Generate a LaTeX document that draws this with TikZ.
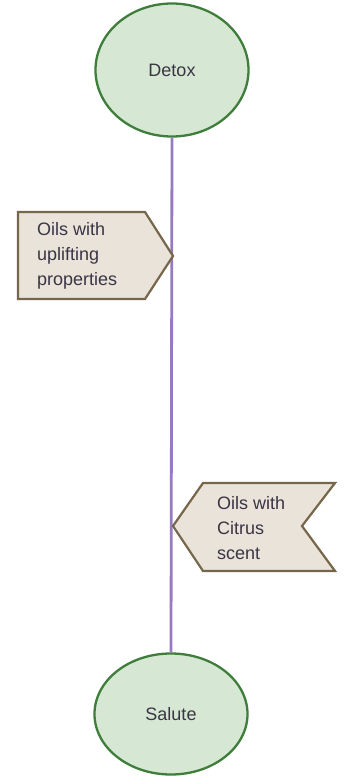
\documentclass[tikz,border=0pt]{standalone}
\usepackage{fontspec}
\setmainfont{Liberation Sans}
\usetikzlibrary{shapes.geometric}

\definecolor{PhaseFill}{HTML}{D6E8D4}
\definecolor{PhaseLine}{HTML}{3E7D3A}
\definecolor{TagFill}{HTML}{E9E3DA}
\definecolor{TagLine}{HTML}{76664A}
\definecolor{Stem}{HTML}{977BC2}
\definecolor{LabelText}{HTML}{3A3545}

\tikzset{
  phase/.style={ellipse,draw=PhaseLine,fill=PhaseFill,line width=2.3pt,
    text=LabelText,inner sep=0pt},
  tagshape/.style={draw=TagLine,fill=TagFill,line width=2.2pt,line join=miter},
  tagtext/.style={anchor=west,align=left,inner sep=0pt,text=LabelText},
  stem/.style={draw=Stem,line width=2.8pt}
}

\newcommand{\drawtagright}[4]{% Parameters: name, left x, top y, text
  \draw[tagshape] (#2,#3) -- ++(127,0) -- ++(28,44) -- ++(-28,43) -- ++(-127,0) -- cycle;
  \path (#2,#3) ++(19,44) node[tagtext] (#1) {#4};
}
\newcommand{\drawtagleft}[4]{% Parameters: name, tip x, tip y, text
  \draw[tagshape] (#2,#3) -- ++(30,-43) -- ++(132,0) -- ++(-33,43) -- ++(33,45) -- ++(-132,0) -- cycle;
  \path (#2,#3) ++(44,2) node[tagtext] (#1) {#4};
}

\begin{document}
\begin{tikzpicture}[x=1pt,y=-1pt,font=\fontsize{18}{25}\selectfont]
  \useasboundingbox (0,0) rectangle (343,777);
  \node[phase,minimum width=153pt,minimum height=133pt] (detox) at (172,70) {Detox};
  \node[phase,minimum width=153pt,minimum height=121pt] (salute) at (171,714) {Salute};
  \draw[stem] (detox.south) -- (salute.north);
  \drawtagright{uplift}{18}{212}{Oils with\\uplifting\\properties}
  \drawtagleft{citrus}{173}{526}{Oils with\\Citrus\\scent}
\end{tikzpicture}
\end{document}
